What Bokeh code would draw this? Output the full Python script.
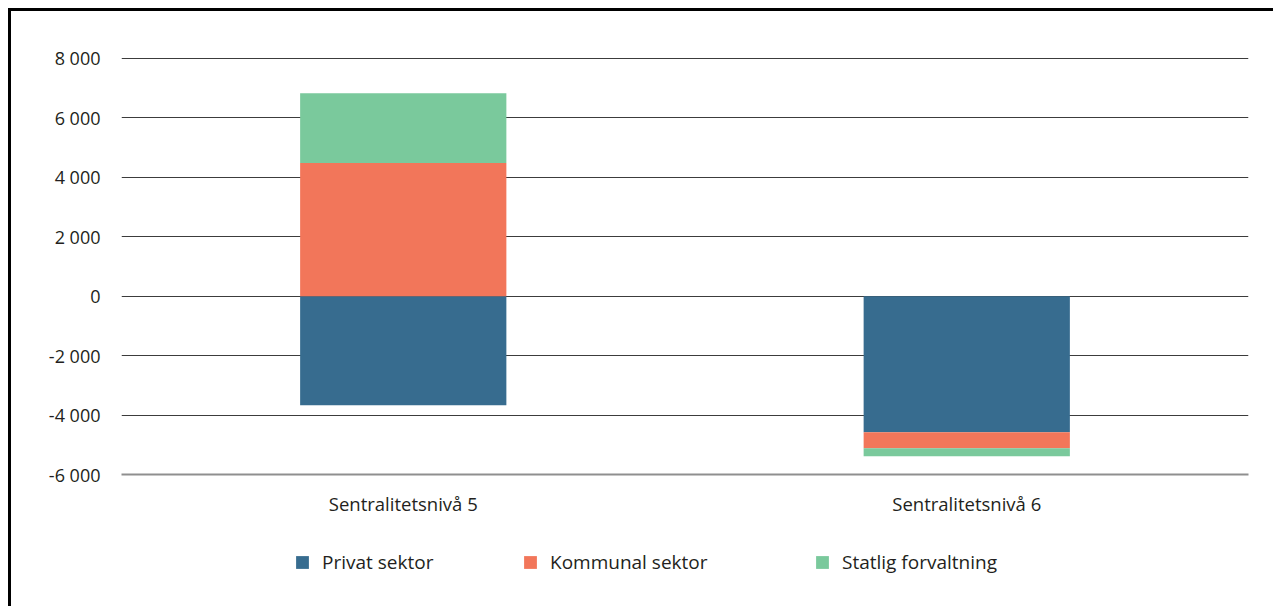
from bokeh.plotting import figure
from bokeh.layouts import column
from bokeh.models import FixedTicker, Legend, LegendItem, ColumnDataSource
from bokeh.embed import file_html
from bokeh.resources import INLINE

categories = ["Sentralitetsnivå 5", "Sentralitetsnivå 6"]
series_names = ["Privat sektor", "Kommunal sektor", "Statlig forvaltning"]
privat = [-3670, -4580]
kommunal = [4480, -540]
statlig = [2350, -270]
colors = ["#376c8f", "#f2765a", "#7ac99c"]
tick_values = [-6000, -4000, -2000, 0, 2000, 4000, 6000, 8000]
tick_labels = ["-6 000", "-4 000", "-2 000", "0", "2 000", "4 000", "6 000", "8 000"]

FONT = "Open Sans"
TXT = "#231f20"

p = figure(x_range=categories, y_range=(-6000, 8067), width=1262, height=530,
           output_backend="svg", toolbar_location=None,
           min_border_left=110, min_border_right=25, min_border_top=45, min_border_bottom=67)
p.outline_line_color = None
p.background_fill_color = "white"
p.border_fill_color = "white"

# stacked bars with separate positive/negative stacking
series = [privat, kommunal, statlig]
pos_base = [0.0] * len(categories)
neg_base = [0.0] * len(categories)
for vals, col in zip(series, colors):
    tops, bottoms = [], []
    for i, v in enumerate(vals):
        if v >= 0:
            bottoms.append(pos_base[i]); tops.append(pos_base[i] + v); pos_base[i] += v
        else:
            tops.append(neg_base[i]); bottoms.append(neg_base[i] + v); neg_base[i] += v
    src = ColumnDataSource(dict(x=categories, top=tops, bottom=bottoms))
    p.vbar(x="x", top="top", bottom="bottom", width=0.366, source=src,
           fill_color=col, line_color=None)

p.xgrid.grid_line_color = None
p.ygrid.grid_line_color = "#3c3c3c"
p.ygrid.grid_line_width = 1
p.ygrid.ticker = FixedTicker(ticks=tick_values)
p.yaxis.ticker = FixedTicker(ticks=tick_values)
p.yaxis.major_label_overrides = {v: l for v, l in zip(tick_values, tick_labels)}
p.yaxis.axis_line_color = None
p.yaxis.major_tick_line_color = None
p.yaxis.minor_tick_line_color = None
p.yaxis.major_tick_out = 0
p.yaxis.major_label_standoff = 21
p.yaxis.major_label_text_font = FONT
p.yaxis.major_label_text_font_size = "18px"
p.yaxis.major_label_text_color = TXT

p.xaxis.axis_line_color = "#8f8f8f"
p.xaxis.axis_line_width = 2
p.xaxis.major_tick_line_color = None
p.xaxis.minor_tick_line_color = None
p.xaxis.major_tick_out = 0
p.xaxis.major_label_standoff = 16
p.xaxis.major_label_text_font = FONT
p.xaxis.major_label_text_font_size = "18.5px"
p.xaxis.major_label_text_color = TXT

# legend strip
pl = figure(width=1262, height=65, x_range=(0, 1), y_range=(0, 1),
            output_backend="svg", toolbar_location=None,
            min_border_left=0, min_border_right=0, min_border_top=0, min_border_bottom=0)
pl.axis.visible = False
pl.grid.grid_line_color = None
pl.outline_line_color = None
dummy = ColumnDataSource(dict(x=[-10], top=[-10], bottom=[-11]))
legend_x = [173, 401, 693]
for name, col, lx in zip(series_names, colors, legend_x):
    r = pl.vbar(x="x", top="top", bottom="bottom", width=0.1, source=dummy,
                fill_color=col, line_color=None)
    lg = Legend(items=[LegendItem(label=name, renderers=[r])], location=(lx, 31),
                orientation="horizontal", glyph_width=16, glyph_height=16,
                label_standoff=12, padding=0, margin=0, spacing=0,
                border_line_color=None, background_fill_alpha=0,
                label_text_font=FONT, label_text_font_size="19px",
                label_text_color=TXT)
    pl.add_layout(lg, "center")

layout = column(p, pl, spacing=0)
layout.styles = {"margin-left": "8px", "margin-top": "8px",
                 "border-left": "3px solid #000000", "border-top": "3px solid #000000"}

open("out.html", "w").write(file_html(layout, INLINE))
